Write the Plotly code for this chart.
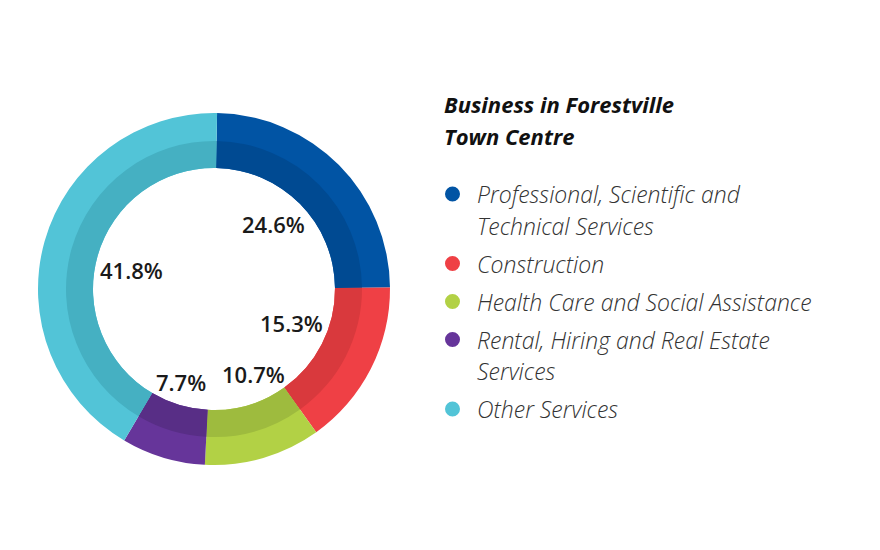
import math
import plotly.graph_objects as go

# data
categories = [
    "Professional, Scientific and Technical Services",
    "Construction",
    "Health Care and Social Assistance",
    "Rental, Hiring and Real Estate Services",
    "Other Services",
]
legend_lines = [
    ["Professional, Scientific and", "Technical Services"],
    ["Construction"],
    ["Health Care and Social Assistance"],
    ["Rental, Hiring and Real Estate", "Services"],
    ["Other Services"],
]
values = [24.6, 15.3, 10.7, 7.7, 41.8]
pct_text = ["24.6%", "15.3%", "10.7%", "7.7%", "41.8%"]
title_lines = ["Business in Forestville", "Town Centre"]

LIGHT = ["#0154A4", "#EF4045", "#B2D145", "#66359A", "#52C4D7"]
DARK = ["#004A92", "#D9393D", "#9EBB3E", "#582E86", "#45B0C2"]

W, H = 880, 550
CX, CY = 206, 281          # donut centre (px from top-left)
R_OUT, R_MID, R_IN = 176, 148, 121
R_FIT = 118                # labels pushed out until they touch this radius
ROT = 1
LABEL_SHIFT = -3           # degrees
MIN_GAP = 12               # px between neighbouring labels


def dom(r):
    return dict(x=[(CX - r) / W, (CX + r) / W],
                y=[(H - CY - r) / H, (H - CY + r) / H])


def px(x):
    return x / W


def py(y):
    return 1 - y / H


def place(deg, t):
    # centre of a label box at angle deg, pushed out until its outer corner hits R_FIT
    m = math.radians(deg)
    a, b = abs(math.sin(m)), abs(math.cos(m))
    hw, hh = 13 * len(t) / 2, 9
    k = a * hw + b * hh
    r = -k + math.sqrt(k * k - (hw * hw + hh * hh - R_FIT ** 2))
    return CX + r * math.sin(m), CY - r * math.cos(m), hw, hh


def clash(p, q):
    return (abs(p[0] - q[0]) < p[2] + q[2] + MIN_GAP) and (abs(p[1] - q[1]) < p[3] + q[3])


fig = go.Figure()

# outer (lighter) ring
fig.add_trace(go.Pie(
    labels=categories, values=values, sort=False, direction="clockwise", rotation=ROT,
    hole=R_IN / R_OUT, domain=dom(R_OUT),
    marker=dict(colors=LIGHT, line=dict(width=0)),
    textinfo="none", hoverinfo="label+percent", showlegend=False,
))
# inner (darker) band
fig.add_trace(go.Pie(
    labels=categories, values=values, sort=False, direction="clockwise", rotation=ROT,
    hole=R_IN / R_MID, domain=dom(R_MID),
    marker=dict(colors=DARK, line=dict(width=0)),
    textinfo="none", hoverinfo="skip", showlegend=False,
))

# percentage labels inside the hole
total = sum(values)
angles = []
acc = 0
for v in values:
    angles.append((acc + v / 2) / total * 360 + ROT + LABEL_SHIFT)
    acc += v

# spread neighbours apart if they collide
n = len(angles)
for _ in range(200):
    moved = False
    for i in range(n - 1):
        p, q = place(angles[i], pct_text[i]), place(angles[i + 1], pct_text[i + 1])
        if clash(p, q):
            angles[i] -= 0.5
            angles[i + 1] += 0.5
            moved = True
    if not moved:
        break

for ang, t in zip(angles, pct_text):
    lx, ly, _, _ = place(ang, t)
    fig.add_annotation(
        x=px(lx), y=py(ly), xref="paper", yref="paper", text=t, showarrow=False,
        xanchor="center", yanchor="middle",
        font=dict(family="Open Sans", size=22, color="#1a1a1a", weight=600),
    )

# legend title
for i, line in enumerate(title_lines):
    fig.add_annotation(
        x=px(434), y=py(96 + i * 32), xref="paper", yref="paper", text=line,
        showarrow=False, xanchor="left", yanchor="middle",
        font=dict(family="Open Sans", size=22, color="#111111", style="italic", weight=700),
    )

# legend entries
row = 0
for i, (lines, col) in enumerate(zip(legend_lines, LIGHT)):
    y_first = 186 + row * 31.5 + i * 6.5
    fig.add_shape(
        type="circle", xref="paper", yref="paper",
        x0=px(437), x1=px(452), y0=py(y_first + 7.5), y1=py(y_first - 7.5),
        fillcolor=col, line=dict(width=0),
    )
    for line in lines:
        fig.add_annotation(
            x=px(467), y=py(186 + row * 31.5 + i * 6.5), xref="paper", yref="paper",
            text=line, showarrow=False, xanchor="left", yanchor="middle",
            font=dict(family="Open Sans", size=23, color="#333333", style="italic", weight=300),
        )
        row += 1

fig.update_layout(
    width=W, height=H,
    margin=dict(l=0, r=0, t=0, b=0),
    paper_bgcolor="white", plot_bgcolor="white",
    showlegend=False,
)

fig.write_html("out.html")
